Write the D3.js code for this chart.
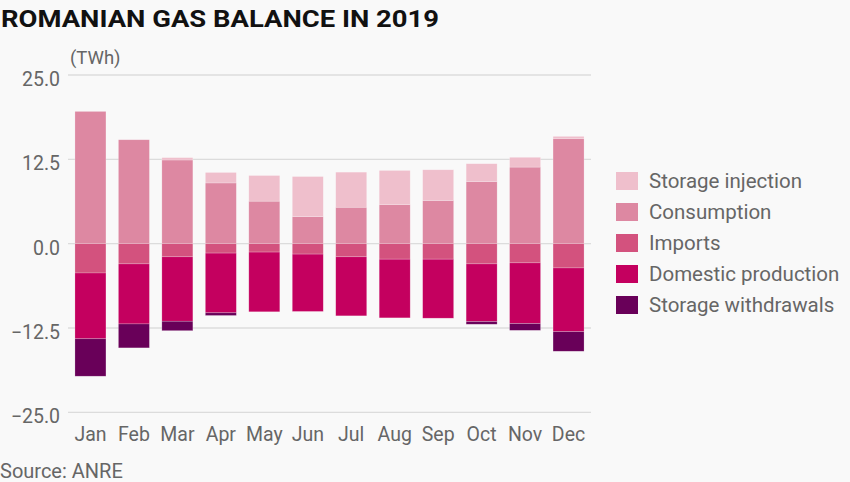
<!DOCTYPE html>
<html><head><meta charset="utf-8">
<script src="https://cdn.jsdelivr.net/npm/d3@7"></script>
<style>
html,body{margin:0;padding:0;background:#f9f9f9;}
svg{display:block;}
text{font-family:Roboto,"Noto Sans",sans-serif;}
</style></head>
<body>
<svg id="chart" width="850" height="482"></svg>
<script>
const months = ["Jan","Feb","Mar","Apr","May","Jun","Jul","Aug","Sep","Oct","Nov","Dec"];
// positive side (uses)
const consumption      = [19.6, 15.4, 12.4, 9.0, 6.3, 4.0, 5.4, 5.8, 6.4, 9.2, 11.35, 15.55];
const storageInjection = [0.0, 0.0, 0.35, 1.55, 3.8, 5.95, 5.2, 5.05, 4.55, 2.65, 1.45, 0.35];
// negative side (sources)
const imports            = [4.35, 3.0, 1.95, 1.4, 1.25, 1.55, 1.95, 2.3, 2.3, 3.0, 2.85, 3.6];
const domesticProduction = [9.75, 8.9, 9.55, 8.85, 8.85, 8.5, 8.75, 8.7, 8.75, 8.55, 9.0, 9.45];
const storageWithdrawals = [5.55, 3.55, 1.4, 0.4, 0.0, 0.0, 0.0, 0.0, 0.0, 0.4, 1.0, 2.9];
const yTicks = [-25, -12.5, 0, 12.5, 25];
const legendLabels = ["Storage injection","Consumption","Imports","Domestic production","Storage withdrawals"];
const colors = {
  "Storage injection":"#efbfcc",
  "Consumption":"#dd88a2",
  "Imports":"#d3527e",
  "Domestic production":"#c4005f",
  "Storage withdrawals":"#690059"
};

const svg = d3.select("#chart");
const x = d3.scaleBand().domain(months).range([68, 591]).paddingInner(0.287).paddingOuter(0.16);
const y = d3.scaleLinear().domain([-25, 25]).range([412.3, 75]);

// grid
svg.append("g").selectAll("line").data(yTicks).join("line")
  .attr("x1", 68).attr("x2", 591)
  .attr("y1", d => y(d)).attr("y2", d => y(d))
  .attr("stroke", "#dcdcdc").attr("stroke-width", 1.3);

// y labels
svg.append("g").selectAll("text").data(yTicks).join("text")
  .attr("x", 60).attr("y", d => y(d) + 4).attr("dy", "0.36em")
  .attr("text-anchor", "end").attr("fill", "#666").attr("font-size", 19.5)
  .text(d => d3.format(".1f")(d));

svg.append("text").attr("x", 70).attr("y", 64).attr("fill", "#666").attr("font-size", 18.5).text("(TWh)");

// stacked segments
const segs = [];
months.forEach((m, i) => {
  let top = 0;
  [["Consumption", consumption[i]], ["Storage injection", storageInjection[i]]].forEach(([k, v]) => {
    if (v > 0) { segs.push({m, k, y0: top, y1: top + v}); top += v; }
  });
  let bot = 0;
  [["Imports", imports[i]], ["Domestic production", domesticProduction[i]], ["Storage withdrawals", storageWithdrawals[i]]].forEach(([k, v]) => {
    if (v > 0) { segs.push({m, k, y0: bot - v, y1: bot}); bot -= v; }
  });
});
svg.append("g").selectAll("rect").data(segs).join("rect")
  .attr("x", d => x(d.m)).attr("width", x.bandwidth())
  .attr("y", d => y(d.y1)).attr("height", d => y(d.y0) - y(d.y1))
  .attr("fill", d => colors[d.k])
  .attr("stroke", "rgba(255,255,255,0.35)").attr("stroke-width", 0.6);

// x labels
svg.append("g").selectAll("text").data(months).join("text")
  .attr("x", d => x(d) + x.bandwidth() / 2).attr("y", 441)
  .attr("text-anchor", "middle").attr("fill", "#666").attr("font-size", 19.5)
  .text(d => d);

// legend
const lg = svg.append("g").selectAll("g").data(legendLabels).join("g")
  .attr("transform", (d, i) => `translate(616, ${172 + i * 31})`);
lg.append("rect").attr("width", 22).attr("height", 18).attr("fill", d => colors[d]);
lg.append("text").attr("x", 33).attr("y", 9).attr("dy", "0.36em")
  .attr("fill", "#666").attr("font-size", 20.5).text(d => d);

// title
const title = svg.append("text").attr("x", 1).attr("y", 27)
  .attr("font-size", 24).attr("font-weight", 700).attr("fill", "#111")
  .text("ROMANIAN GAS BALANCE IN 2019");
title.attr("textLength", 438).attr("lengthAdjust", "spacingAndGlyphs");

svg.append("text").attr("x", 0).attr("y", 478).attr("fill", "#666").attr("font-size", 20).text("Source: ANRE");
</script>
</body></html>
